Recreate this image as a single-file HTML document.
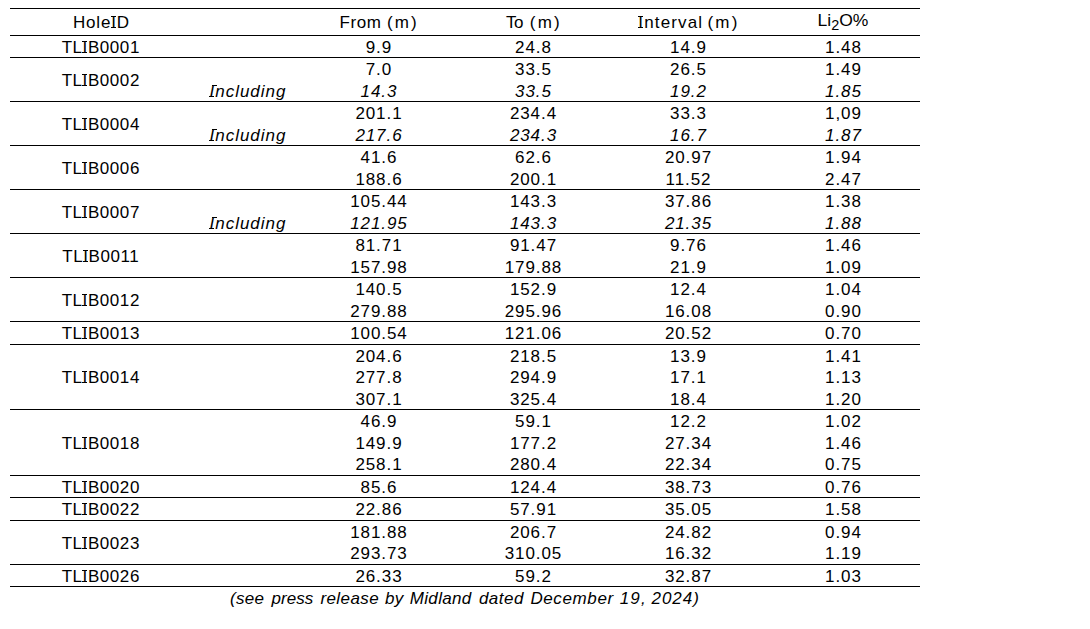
<!DOCTYPE html>
<html><head><meta charset="utf-8"><style>
html,body{margin:0;padding:0;background:#fff;width:1090px;height:629px;overflow:hidden}
body{position:relative}
.ln{position:absolute;left:10px;width:910px;height:1px;background:#000}
.t{position:absolute;width:600px;text-align:center;white-space:nowrap;font-family:"Liberation Sans",sans-serif;font-size:17px;line-height:20px;color:#000;transform-origin:50% 50%}
.w{position:absolute;white-space:nowrap;font-family:"Liberation Sans",sans-serif;font-size:17px;line-height:20px;color:#000}
.i{font-style:italic}
.sI{position:relative}
.sI:before,.sI:after{content:'';position:absolute;left:-0.2px;width:5px;height:1px;background:#000}
.sI:before{top:3px}
.sI:after{top:14px}
.i .sI:before{left:2px}
.i .sI:after{left:-0.4px}
.sub{font-size:14px;position:relative;top:4px;line-height:0}
</style></head><body>
<div class="ln" style="top:8px"></div>
<div class="ln" style="top:35px"></div>
<div class="ln" style="top:57px"></div>
<div class="ln" style="top:101px"></div>
<div class="ln" style="top:145px"></div>
<div class="ln" style="top:189px"></div>
<div class="ln" style="top:233px"></div>
<div class="ln" style="top:277px"></div>
<div class="ln" style="top:321px"></div>
<div class="ln" style="top:344px"></div>
<div class="ln" style="top:409px"></div>
<div class="ln" style="top:475px"></div>
<div class="ln" style="top:497px"></div>
<div class="ln" style="top:520px"></div>
<div class="ln" style="top:564px"></div>
<div class="ln" style="top:586px"></div>
<div class="t" style="left:-199.0px;top:13px;letter-spacing:0.800px;text-indent:0.800px">Hole<span class="sI">I</span>D</div>
<div class="w" style="left:339.5px;top:13px;letter-spacing:0.567px">From</div>
<div class="w" style="left:387.0px;top:13px;letter-spacing:2.05px">(m)</div>
<div class="w" style="left:505.9px;top:13px;letter-spacing:-0.5px">To</div>
<div class="w" style="left:529.8px;top:13px;letter-spacing:2.25px">(m)</div>
<div class="w" style="left:638.3px;top:13px;letter-spacing:1.143px"><span class="sI">I</span>nterval</div>
<div class="w" style="left:707.5px;top:13px;letter-spacing:2.2px">(m)</div>
<div class="t" style="left:542.5px;top:11px;transform:scaleX(1.03)">Li<span class="sub">2</span>O%</div>
<div class="t" style="left:-199.5px;top:38px;letter-spacing:0.571px;text-indent:0.571px">TL<span class="sI">I</span>B0001</div>
<div class="t" style="left:78.5px;top:38px;letter-spacing:0.963px;text-indent:0.963px">9.9</div>
<div class="t" style="left:233.0px;top:38px;letter-spacing:0.931px;text-indent:0.931px">24.8</div>
<div class="t" style="left:388.0px;top:38px;letter-spacing:0.931px;text-indent:0.931px">14.9</div>
<div class="t" style="left:543.0px;top:38px;letter-spacing:0.931px;text-indent:0.931px">1.48</div>
<div class="t" style="left:-199.5px;top:71px;letter-spacing:0.571px;text-indent:0.571px">TL<span class="sI">I</span>B0002</div>
<div class="t" style="left:78.5px;top:60px;letter-spacing:0.963px;text-indent:0.963px">7.0</div>
<div class="t" style="left:233.0px;top:60px;letter-spacing:0.931px;text-indent:0.931px">33.5</div>
<div class="t" style="left:388.0px;top:60px;letter-spacing:0.931px;text-indent:0.931px">26.5</div>
<div class="t" style="left:543.0px;top:60px;letter-spacing:0.931px;text-indent:0.931px">1.49</div>
<div class="t i" style="left:-52.5px;top:82px;letter-spacing:0.963px;text-indent:0.963px"><span class="sI">I</span>ncluding</div>
<div class="t i" style="left:78.5px;top:82px;letter-spacing:0.931px;text-indent:0.931px">14.3</div>
<div class="t i" style="left:233.0px;top:82px;letter-spacing:0.931px;text-indent:0.931px">33.5</div>
<div class="t i" style="left:388.0px;top:82px;letter-spacing:0.931px;text-indent:0.931px">19.2</div>
<div class="t i" style="left:543.0px;top:82px;letter-spacing:0.931px;text-indent:0.931px">1.85</div>
<div class="t" style="left:-199.5px;top:115px;letter-spacing:0.571px;text-indent:0.571px">TL<span class="sI">I</span>B0004</div>
<div class="t" style="left:78.5px;top:104px;letter-spacing:0.912px;text-indent:0.912px">201.1</div>
<div class="t" style="left:233.0px;top:104px;letter-spacing:0.912px;text-indent:0.912px">234.4</div>
<div class="t" style="left:388.0px;top:104px;letter-spacing:0.931px;text-indent:0.931px">33.3</div>
<div class="t" style="left:543.0px;top:104px;letter-spacing:0.931px;text-indent:0.931px">1,09</div>
<div class="t i" style="left:-52.5px;top:126px;letter-spacing:0.963px;text-indent:0.963px"><span class="sI">I</span>ncluding</div>
<div class="t i" style="left:78.5px;top:126px;letter-spacing:0.912px;text-indent:0.912px">217.6</div>
<div class="t i" style="left:233.0px;top:126px;letter-spacing:0.912px;text-indent:0.912px">234.3</div>
<div class="t i" style="left:388.0px;top:126px;letter-spacing:0.931px;text-indent:0.931px">16.7</div>
<div class="t i" style="left:543.0px;top:126px;letter-spacing:0.931px;text-indent:0.931px">1.87</div>
<div class="t" style="left:-199.5px;top:159px;letter-spacing:0.571px;text-indent:0.571px">TL<span class="sI">I</span>B0006</div>
<div class="t" style="left:78.5px;top:148px;letter-spacing:0.931px;text-indent:0.931px">41.6</div>
<div class="t" style="left:233.0px;top:148px;letter-spacing:0.931px;text-indent:0.931px">62.6</div>
<div class="t" style="left:388.0px;top:148px;letter-spacing:0.912px;text-indent:0.912px">20.97</div>
<div class="t" style="left:543.0px;top:148px;letter-spacing:0.931px;text-indent:0.931px">1.94</div>
<div class="t" style="left:78.5px;top:170px;letter-spacing:0.912px;text-indent:0.912px">188.6</div>
<div class="t" style="left:233.0px;top:170px;letter-spacing:0.912px;text-indent:0.912px">200.1</div>
<div class="t" style="left:388.0px;top:170px;letter-spacing:0.912px;text-indent:0.912px">11.52</div>
<div class="t" style="left:543.0px;top:170px;letter-spacing:0.931px;text-indent:0.931px">2.47</div>
<div class="t" style="left:-199.5px;top:203px;letter-spacing:0.571px;text-indent:0.571px">TL<span class="sI">I</span>B0007</div>
<div class="t" style="left:78.5px;top:192px;letter-spacing:0.900px;text-indent:0.900px">105.44</div>
<div class="t" style="left:233.0px;top:192px;letter-spacing:0.912px;text-indent:0.912px">143.3</div>
<div class="t" style="left:388.0px;top:192px;letter-spacing:0.912px;text-indent:0.912px">37.86</div>
<div class="t" style="left:543.0px;top:192px;letter-spacing:0.931px;text-indent:0.931px">1.38</div>
<div class="t i" style="left:-52.5px;top:214px;letter-spacing:0.963px;text-indent:0.963px"><span class="sI">I</span>ncluding</div>
<div class="t i" style="left:78.5px;top:214px;letter-spacing:0.900px;text-indent:0.900px">121.95</div>
<div class="t i" style="left:233.0px;top:214px;letter-spacing:0.912px;text-indent:0.912px">143.3</div>
<div class="t i" style="left:388.0px;top:214px;letter-spacing:0.912px;text-indent:0.912px">21.35</div>
<div class="t i" style="left:543.0px;top:214px;letter-spacing:0.931px;text-indent:0.931px">1.88</div>
<div class="t" style="left:-199.5px;top:247px;letter-spacing:0.571px;text-indent:0.571px">TL<span class="sI">I</span>B0011</div>
<div class="t" style="left:78.5px;top:236px;letter-spacing:0.912px;text-indent:0.912px">81.71</div>
<div class="t" style="left:233.0px;top:236px;letter-spacing:0.912px;text-indent:0.912px">91.47</div>
<div class="t" style="left:388.0px;top:236px;letter-spacing:0.931px;text-indent:0.931px">9.76</div>
<div class="t" style="left:543.0px;top:236px;letter-spacing:0.931px;text-indent:0.931px">1.46</div>
<div class="t" style="left:78.5px;top:258px;letter-spacing:0.900px;text-indent:0.900px">157.98</div>
<div class="t" style="left:233.0px;top:258px;letter-spacing:0.900px;text-indent:0.900px">179.88</div>
<div class="t" style="left:388.0px;top:258px;letter-spacing:0.931px;text-indent:0.931px">21.9</div>
<div class="t" style="left:543.0px;top:258px;letter-spacing:0.931px;text-indent:0.931px">1.09</div>
<div class="t" style="left:-199.5px;top:291px;letter-spacing:0.571px;text-indent:0.571px">TL<span class="sI">I</span>B0012</div>
<div class="t" style="left:78.5px;top:280px;letter-spacing:0.912px;text-indent:0.912px">140.5</div>
<div class="t" style="left:233.0px;top:280px;letter-spacing:0.912px;text-indent:0.912px">152.9</div>
<div class="t" style="left:388.0px;top:280px;letter-spacing:0.931px;text-indent:0.931px">12.4</div>
<div class="t" style="left:543.0px;top:280px;letter-spacing:0.931px;text-indent:0.931px">1.04</div>
<div class="t" style="left:78.5px;top:302px;letter-spacing:0.900px;text-indent:0.900px">279.88</div>
<div class="t" style="left:233.0px;top:302px;letter-spacing:0.900px;text-indent:0.900px">295.96</div>
<div class="t" style="left:388.0px;top:302px;letter-spacing:0.912px;text-indent:0.912px">16.08</div>
<div class="t" style="left:543.0px;top:302px;letter-spacing:0.931px;text-indent:0.931px">0.90</div>
<div class="t" style="left:-199.5px;top:324px;letter-spacing:0.571px;text-indent:0.571px">TL<span class="sI">I</span>B0013</div>
<div class="t" style="left:78.5px;top:324px;letter-spacing:0.900px;text-indent:0.900px">100.54</div>
<div class="t" style="left:233.0px;top:324px;letter-spacing:0.900px;text-indent:0.900px">121.06</div>
<div class="t" style="left:388.0px;top:324px;letter-spacing:0.912px;text-indent:0.912px">20.52</div>
<div class="t" style="left:543.0px;top:324px;letter-spacing:0.931px;text-indent:0.931px">0.70</div>
<div class="t" style="left:-199.5px;top:368px;letter-spacing:0.571px;text-indent:0.571px">TL<span class="sI">I</span>B0014</div>
<div class="t" style="left:78.5px;top:347px;letter-spacing:0.912px;text-indent:0.912px">204.6</div>
<div class="t" style="left:233.0px;top:347px;letter-spacing:0.912px;text-indent:0.912px">218.5</div>
<div class="t" style="left:388.0px;top:347px;letter-spacing:0.931px;text-indent:0.931px">13.9</div>
<div class="t" style="left:543.0px;top:347px;letter-spacing:0.931px;text-indent:0.931px">1.41</div>
<div class="t" style="left:78.5px;top:368px;letter-spacing:0.912px;text-indent:0.912px">277.8</div>
<div class="t" style="left:233.0px;top:368px;letter-spacing:0.912px;text-indent:0.912px">294.9</div>
<div class="t" style="left:388.0px;top:368px;letter-spacing:0.931px;text-indent:0.931px">17.1</div>
<div class="t" style="left:543.0px;top:368px;letter-spacing:0.931px;text-indent:0.931px">1.13</div>
<div class="t" style="left:78.5px;top:390px;letter-spacing:0.912px;text-indent:0.912px">307.1</div>
<div class="t" style="left:233.0px;top:390px;letter-spacing:0.912px;text-indent:0.912px">325.4</div>
<div class="t" style="left:388.0px;top:390px;letter-spacing:0.931px;text-indent:0.931px">18.4</div>
<div class="t" style="left:543.0px;top:390px;letter-spacing:0.931px;text-indent:0.931px">1.20</div>
<div class="t" style="left:-199.5px;top:434px;letter-spacing:0.571px;text-indent:0.571px">TL<span class="sI">I</span>B0018</div>
<div class="t" style="left:78.5px;top:412px;letter-spacing:0.931px;text-indent:0.931px">46.9</div>
<div class="t" style="left:233.0px;top:412px;letter-spacing:0.931px;text-indent:0.931px">59.1</div>
<div class="t" style="left:388.0px;top:412px;letter-spacing:0.931px;text-indent:0.931px">12.2</div>
<div class="t" style="left:543.0px;top:412px;letter-spacing:0.931px;text-indent:0.931px">1.02</div>
<div class="t" style="left:78.5px;top:434px;letter-spacing:0.912px;text-indent:0.912px">149.9</div>
<div class="t" style="left:233.0px;top:434px;letter-spacing:0.912px;text-indent:0.912px">177.2</div>
<div class="t" style="left:388.0px;top:434px;letter-spacing:0.912px;text-indent:0.912px">27.34</div>
<div class="t" style="left:543.0px;top:434px;letter-spacing:0.931px;text-indent:0.931px">1.46</div>
<div class="t" style="left:78.5px;top:455px;letter-spacing:0.912px;text-indent:0.912px">258.1</div>
<div class="t" style="left:233.0px;top:455px;letter-spacing:0.912px;text-indent:0.912px">280.4</div>
<div class="t" style="left:388.0px;top:455px;letter-spacing:0.912px;text-indent:0.912px">22.34</div>
<div class="t" style="left:543.0px;top:455px;letter-spacing:0.931px;text-indent:0.931px">0.75</div>
<div class="t" style="left:-199.5px;top:478px;letter-spacing:0.571px;text-indent:0.571px">TL<span class="sI">I</span>B0020</div>
<div class="t" style="left:78.5px;top:478px;letter-spacing:0.931px;text-indent:0.931px">85.6</div>
<div class="t" style="left:233.0px;top:478px;letter-spacing:0.912px;text-indent:0.912px">124.4</div>
<div class="t" style="left:388.0px;top:478px;letter-spacing:0.912px;text-indent:0.912px">38.73</div>
<div class="t" style="left:543.0px;top:478px;letter-spacing:0.931px;text-indent:0.931px">0.76</div>
<div class="t" style="left:-199.5px;top:500px;letter-spacing:0.571px;text-indent:0.571px">TL<span class="sI">I</span>B0022</div>
<div class="t" style="left:78.5px;top:500px;letter-spacing:0.912px;text-indent:0.912px">22.86</div>
<div class="t" style="left:233.0px;top:500px;letter-spacing:0.912px;text-indent:0.912px">57.91</div>
<div class="t" style="left:388.0px;top:500px;letter-spacing:0.912px;text-indent:0.912px">35.05</div>
<div class="t" style="left:543.0px;top:500px;letter-spacing:0.931px;text-indent:0.931px">1.58</div>
<div class="t" style="left:-199.5px;top:534px;letter-spacing:0.571px;text-indent:0.571px">TL<span class="sI">I</span>B0023</div>
<div class="t" style="left:78.5px;top:523px;letter-spacing:0.900px;text-indent:0.900px">181.88</div>
<div class="t" style="left:233.0px;top:523px;letter-spacing:0.912px;text-indent:0.912px">206.7</div>
<div class="t" style="left:388.0px;top:523px;letter-spacing:0.912px;text-indent:0.912px">24.82</div>
<div class="t" style="left:543.0px;top:523px;letter-spacing:0.931px;text-indent:0.931px">0.94</div>
<div class="t" style="left:78.5px;top:544px;letter-spacing:0.900px;text-indent:0.900px">293.73</div>
<div class="t" style="left:233.0px;top:544px;letter-spacing:0.900px;text-indent:0.900px">310.05</div>
<div class="t" style="left:388.0px;top:544px;letter-spacing:0.912px;text-indent:0.912px">16.32</div>
<div class="t" style="left:543.0px;top:544px;letter-spacing:0.931px;text-indent:0.931px">1.19</div>
<div class="t" style="left:-199.5px;top:567px;letter-spacing:0.571px;text-indent:0.571px">TL<span class="sI">I</span>B0026</div>
<div class="t" style="left:78.5px;top:567px;letter-spacing:0.912px;text-indent:0.912px">26.33</div>
<div class="t" style="left:233.0px;top:567px;letter-spacing:0.931px;text-indent:0.931px">59.2</div>
<div class="t" style="left:388.0px;top:567px;letter-spacing:0.912px;text-indent:0.912px">32.87</div>
<div class="t" style="left:543.0px;top:567px;letter-spacing:0.931px;text-indent:0.931px">1.03</div>
<div class="w i" style="left:230.1px;top:589px;letter-spacing:0.267px">(see</div>
<div class="w i" style="left:271.4px;top:589px;letter-spacing:0.1px">press</div>
<div class="w i" style="left:320.4px;top:589px;letter-spacing:0.417px">release</div>
<div class="w i" style="left:385.0px;top:589px;letter-spacing:0.2px">by</div>
<div class="w i" style="left:409.7px;top:589px;letter-spacing:0.35px">Midland</div>
<div class="w i" style="left:478.9px;top:589px;letter-spacing:0.475px">dated</div>
<div class="w i" style="left:530.4px;top:589px;letter-spacing:0.614px">December</div>
<div class="w i" style="left:619.7px;top:589px;letter-spacing:1.15px">19,</div>
<div class="w i" style="left:651.5px;top:589px;letter-spacing:0.975px">2024)</div>
</body></html>
